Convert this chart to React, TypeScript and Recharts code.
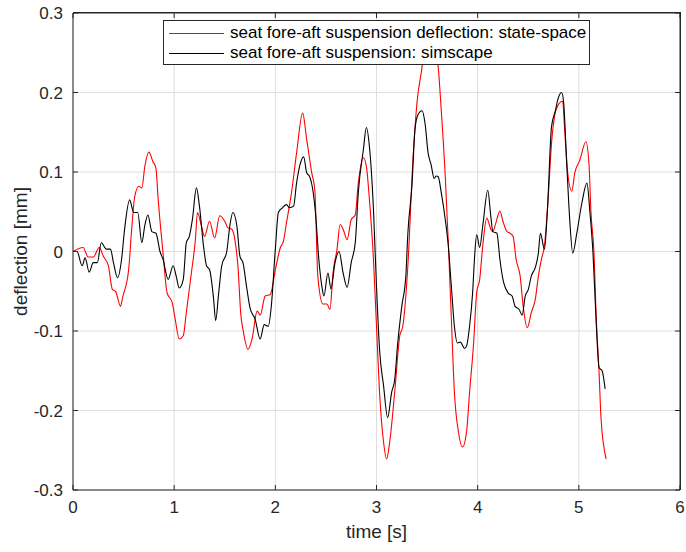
import React from 'react';
import { LineChart, Line, XAxis, YAxis, CartesianGrid, Legend, Label } from 'recharts';

const FONT = '"Liberation Sans", Arial, Helvetica, sans-serif';

const seriesNames = [
  'seat fore-aft suspension deflection: state-space',
  'seat fore-aft suspension: simscape',
];

const ssTime = [
  0.00, 0.10, 0.15, 0.20, 0.26, 0.30, 0.35, 0.39, 0.42, 0.47,
  0.49, 0.55, 0.58, 0.61, 0.65, 0.68, 0.71, 0.75, 0.79, 0.82,
  0.84, 0.89, 0.93, 0.98, 1.01, 1.05, 1.09, 1.12, 1.17, 1.21,
  1.23, 1.27, 1.30, 1.35, 1.40, 1.45, 1.50, 1.53, 1.57, 1.60,
  1.63, 1.66, 1.68, 1.73, 1.77, 1.82, 1.85, 1.90, 1.95, 2.00,
  2.05, 2.08, 2.11, 2.16, 2.21, 2.27, 2.31, 2.36, 2.39, 2.42,
  2.47, 2.51, 2.54, 2.57, 2.61, 2.64, 2.67, 2.71, 2.75, 2.79,
  2.82, 2.87, 2.90, 2.93, 2.97, 3.00, 3.03, 3.07, 3.10, 3.13,
  3.18, 3.23, 3.26, 3.31, 3.36, 3.40, 3.45, 3.48, 3.53, 3.57,
  3.61, 3.64, 3.68, 3.71, 3.74, 3.77, 3.81, 3.85, 3.89, 3.92,
  3.96, 3.99, 4.02, 4.05, 4.09, 4.13, 4.15, 4.18, 4.22, 4.25,
  4.29, 4.32, 4.35, 4.38, 4.42, 4.45, 4.49, 4.53, 4.57, 4.60,
  4.63, 4.66, 4.70, 4.73, 4.76, 4.79, 4.84, 4.86, 4.89, 4.93,
  4.96, 5.01, 5.07, 5.10, 5.12, 5.15, 5.17, 5.20, 5.22, 5.27,
];

const ssDeflection = [
  0.000, 0.005, -0.007, -0.007, 0.005, -0.006, -0.018, -0.048, -0.050, -0.069,
  -0.058, -0.023, 0.028, 0.069, 0.082, 0.080, 0.107, 0.125, 0.113, 0.105,
  0.069, -0.002, -0.052, -0.064, -0.085, -0.110, -0.106, -0.077, -0.027, 0.015,
  0.049, 0.032, 0.019, 0.038, 0.017, 0.045, 0.038, 0.030, 0.028, 0.015,
  -0.018, -0.081, -0.098, -0.123, -0.110, -0.075, -0.080, -0.056, -0.054, -0.023,
  0.005, 0.013, 0.036, 0.074, 0.124, 0.174, 0.141, 0.099, 0.078, -0.031,
  -0.066, -0.066, -0.073, -0.027, 0.003, 0.034, 0.028, 0.015, 0.040, 0.046,
  0.086, 0.118, 0.107, 0.065, -0.010, -0.094, -0.177, -0.240, -0.261, -0.240,
  -0.177, -0.106, -0.094, -0.018, 0.115, 0.187, 0.232, 0.265, 0.278, 0.265,
  0.232, 0.178, 0.094, 0.011, -0.085, -0.177, -0.227, -0.246, -0.227, -0.177,
  -0.115, -0.052, -0.035, 0.007, 0.042, 0.028, 0.025, 0.036, 0.051, 0.038,
  0.025, 0.023, 0.019, -0.010, -0.031, -0.069, -0.096, -0.077, -0.060, -0.031,
  -0.010, 0.007, 0.074, 0.136, 0.170, 0.183, 0.189, 0.153, 0.099, 0.076,
  0.099, 0.115, 0.138, 0.111, 0.049, -0.002, -0.077, -0.152, -0.211, -0.261,
];

const simTime = [
  0.00, 0.04, 0.09, 0.12, 0.16, 0.20, 0.24, 0.28, 0.33, 0.37,
  0.40, 0.44, 0.48, 0.51, 0.56, 0.60, 0.64, 0.68, 0.71, 0.74,
  0.78, 0.82, 0.86, 0.89, 0.94, 0.99, 1.02, 1.05, 1.09, 1.12,
  1.15, 1.18, 1.22, 1.25, 1.29, 1.32, 1.35, 1.39, 1.41, 1.44,
  1.47, 1.52, 1.55, 1.58, 1.62, 1.65, 1.68, 1.72, 1.75, 1.80,
  1.85, 1.89, 1.93, 1.96, 2.00, 2.03, 2.07, 2.11, 2.14, 2.18,
  2.21, 2.24, 2.28, 2.31, 2.34, 2.37, 2.40, 2.43, 2.46, 2.48,
  2.52, 2.55, 2.59, 2.63, 2.67, 2.71, 2.75, 2.79, 2.82, 2.87,
  2.90, 2.93, 2.97, 3.00, 3.03, 3.07, 3.11, 3.15, 3.18, 3.21,
  3.25, 3.29, 3.31, 3.35, 3.38, 3.41, 3.45, 3.48, 3.51, 3.54,
  3.57, 3.59, 3.61, 3.64, 3.68, 3.71, 3.74, 3.77, 3.80, 3.83,
  3.87, 3.89, 3.92, 3.95, 3.97, 3.99, 4.02, 4.05, 4.10, 4.13,
  4.15, 4.19, 4.22, 4.25, 4.30, 4.34, 4.37, 4.41, 4.44, 4.47,
  4.50, 4.53, 4.57, 4.60, 4.62, 4.66, 4.69, 4.73, 4.77, 4.79,
  4.83, 4.85, 4.88, 4.91, 4.94, 4.98, 5.03, 5.08, 5.11, 5.14,
  5.17, 5.20, 5.23, 5.26,
];

const simDeflection = [
  0.000, 0.000, -0.018, -0.008, -0.026, -0.014, -0.014, 0.011, 0.003, 0.003,
  -0.014, -0.033, -0.010, 0.028, 0.065, 0.049, 0.049, 0.011, 0.033, 0.046,
  0.025, 0.023, 0.000, -0.010, -0.035, -0.018, -0.031, -0.046, -0.035, 0.011,
  0.019, 0.040, 0.080, 0.057, 0.007, -0.018, -0.023, -0.060, -0.087, -0.052,
  -0.018, 0.000, 0.032, 0.049, 0.032, -0.006, -0.014, -0.048, -0.071, -0.085,
  -0.110, -0.092, -0.094, -0.069, 0.003, 0.049, 0.055, 0.059, 0.055, 0.057,
  0.086, 0.107, 0.119, 0.099, 0.094, 0.078, 0.044, -0.010, -0.044, -0.056,
  -0.027, -0.047, -0.014, 0.000, -0.027, -0.045, -0.014, 0.011, 0.074, 0.128,
  0.156, 0.132, 0.053, -0.044, -0.123, -0.169, -0.209, -0.177, -0.161, -0.115,
  -0.069, -0.031, 0.023, 0.082, 0.153, 0.172, 0.177, 0.161, 0.124, 0.109,
  0.092, 0.095, 0.094, 0.074, 0.040, 0.007, -0.044, -0.094, -0.115, -0.114,
  -0.122, -0.119, -0.094, -0.052, -0.006, 0.021, 0.005, 0.032, 0.077, 0.044,
  0.025, 0.023, -0.010, -0.035, -0.052, -0.056, -0.069, -0.073, -0.080, -0.056,
  -0.048, -0.031, -0.020, -0.002, 0.023, 0.003, 0.053, 0.157, 0.178, 0.190,
  0.200, 0.187, 0.111, 0.040, -0.002, 0.023, 0.061, 0.086, 0.049, -0.002,
  -0.085, -0.146, -0.150, -0.173,
];

const xTicks = [0, 1, 2, 3, 4, 5, 6];
const yTicks = [-0.3, -0.2, -0.1, 0, 0.1, 0.2, 0.3];

const ssData = ssTime.map((t, i) => ({ t, v: ssDeflection[i] }));
const simData = simTime.map((t, i) => ({ t, v: simDeflection[i] }));

const AXIS = '#262626';
const GRID = '#dedede';
const TICK_LEN = 5;
const CHART_W = 686;
const CHART_H = 552;
const MARGIN = { top: 13, right: 6, left: 0, bottom: 0 };
const Y_AXIS_W = 73;
const X_AXIS_H = 62;
const PLOT_TOP = MARGIN.top;
const PLOT_RIGHT = CHART_W - MARGIN.right;
const tickStyle = { fill: AXIS, fontSize: 17, fontFamily: FONT };

const formatY = (v: number) => (Math.abs(v) < 1e-9 ? '0' : v.toFixed(1));

// horizontal grid line + inward tick on the right edge; top edge drawn dark (box)
const hGridLine = (p: any) => {
  const isTop = Math.abs(p.y1 - PLOT_TOP) < 1;
  const right = Math.max(p.x1, p.x2);
  return (
    <g key={p.key}>
      <line x1={p.x1} y1={p.y1} x2={p.x2} y2={p.y2} stroke={isTop ? AXIS : GRID} strokeWidth={1} />
      <line x1={right - TICK_LEN} y1={p.y1} x2={right} y2={p.y1} stroke={AXIS} strokeWidth={1} />
    </g>
  );
};

// vertical grid line + inward tick on the top edge; right edge drawn dark (box)
const vGridLine = (p: any) => {
  const isRight = Math.abs(p.x1 - PLOT_RIGHT) < 1;
  const top = Math.min(p.y1, p.y2);
  return (
    <g key={p.key}>
      <line x1={p.x1} y1={p.y1} x2={p.x2} y2={p.y2} stroke={isRight ? AXIS : GRID} strokeWidth={1} />
      <line x1={p.x1} y1={top} x2={p.x1} y2={top + TICK_LEN} stroke={AXIS} strokeWidth={1} />
    </g>
  );
};

const renderYLabel = (props: any) => {
  const vb = props.viewBox || { x: 0, y: 13, width: 73, height: 477 };
  const cx = vb.x + 20;
  const cy = vb.y + vb.height / 2;
  return (
    <text
      x={cx}
      y={cy}
      transform={`rotate(-90, ${cx}, ${cy})`}
      textAnchor="middle"
      dominantBaseline="central"
      fill={AXIS}
      fontSize={19}
      fontFamily={FONT}
    >
      deflection [mm]
    </text>
  );
};

const renderXLabel = (props: any) => {
  const vb = props.viewBox || { x: 73, y: 490, width: 607, height: 62 };
  const cx = vb.x + vb.width / 2;
  const cy = vb.y + 41;
  return (
    <text
      x={cx}
      y={cy}
      textAnchor="middle"
      dominantBaseline="central"
      fill={AXIS}
      fontSize={19}
      fontFamily={FONT}
    >
      time [s]
    </text>
  );
};

const renderLegend = (props: any) => {
  const payload = props.payload || [];
  return (
    <div
      style={{
        border: `1px solid ${AXIS}`,
        background: '#ffffff',
        width: 425,
        height: 43,
        fontFamily: FONT,
        fontSize: 17,
        color: '#000',
      }}
    >
      {payload.map((p: any, i: number) => (
        <div
          key={i}
          style={{ display: 'flex', alignItems: 'center', height: 20, marginTop: i === 0 ? 2 : 0 }}
        >
          <div
            style={{ width: 55, height: 0, borderTop: `1px solid ${p.color}`, marginLeft: 5, marginRight: 6 }}
          />
          <span style={{ whiteSpace: 'nowrap', lineHeight: '20px' }}>{p.value}</span>
        </div>
      ))}
    </div>
  );
};

export default function App() {
  const plotW = CHART_W - MARGIN.right - Y_AXIS_W;
  const plotH = CHART_H - MARGIN.top - X_AXIS_H;
  return (
    <div style={{ width: CHART_W, height: CHART_H, position: 'relative' }}>
      <style>{'html, body { margin: 0; padding: 0; overflow: hidden; }'}</style>
      <LineChart width={CHART_W} height={CHART_H} margin={MARGIN}>
        <CartesianGrid stroke={GRID} strokeWidth={1} horizontal={hGridLine} vertical={vGridLine} />
        <XAxis
          dataKey="t"
          type="number"
          domain={[0, 6]}
          ticks={xTicks}
          allowDataOverflow
          height={X_AXIS_H}
          stroke={AXIS}
          tick={tickStyle}
          tickSize={-TICK_LEN}
          tickMargin={16}
        >
          <Label content={renderXLabel} />
        </XAxis>
        <YAxis
          type="number"
          domain={[-0.3, 0.3]}
          ticks={yTicks}
          allowDataOverflow
          width={Y_AXIS_W}
          stroke={AXIS}
          tick={tickStyle}
          tickFormatter={formatY}
          tickSize={-TICK_LEN}
          tickMargin={15}
        >
          <Label content={renderYLabel} />
        </YAxis>
        <Legend
          layout="horizontal"
          verticalAlign="middle"
          align="center"
          content={renderLegend}
          wrapperStyle={{ position: 'absolute', left: 163, top: 20, width: 427, height: 45 }}
        />
        <Line
          data={ssData}
          dataKey="v"
          name={seriesNames[0]}
          type="monotone"
          stroke="#ff0000"
          strokeWidth={1.1}
          dot={false}
          activeDot={false}
          isAnimationActive={false}
        />
        <Line
          data={simData}
          dataKey="v"
          name={seriesNames[1]}
          type="monotone"
          stroke="#000000"
          strokeWidth={1.1}
          dot={false}
          activeDot={false}
          isAnimationActive={false}
        />
      </LineChart>
      <div
        style={{
          position: 'absolute',
          left: Y_AXIS_W,
          top: MARGIN.top - 1,
          width: plotW + 1,
          height: plotH + 1,
          boxSizing: 'border-box',
          borderTop: `1px solid ${AXIS}`,
          borderRight: `1px solid ${AXIS}`,
          pointerEvents: 'none',
        }}
      />
    </div>
  );
}
